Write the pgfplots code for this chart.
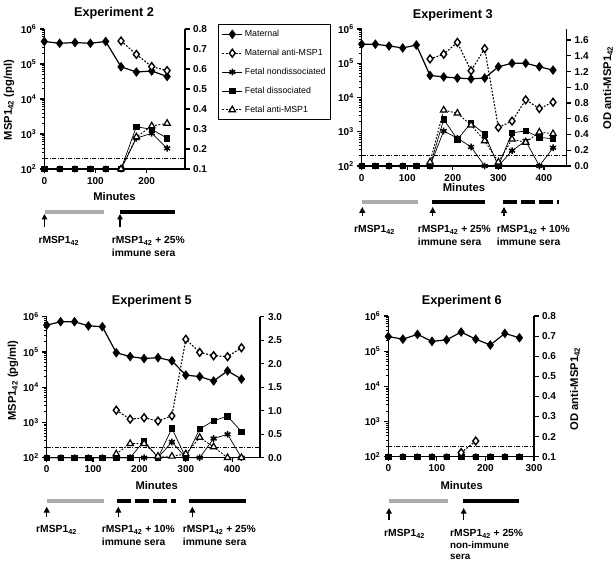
\documentclass[border=0pt]{standalone}
\usepackage{pgfplots}
\pgfplotsset{compat=1.18}
\usepackage{fontspec}
\setmainfont{Liberation Sans}
\usetikzlibrary{arrows.meta}

\newcommand\tickf{\bfseries\fontsize{10}{11}\selectfont}
\newcommand\titf{\bfseries\fontsize{12.7}{14}\selectfont}
\newcommand\labf{\bfseries\fontsize{11.2}{13}\selectfont}
\newcommand\annf{\bfseries\fontsize{10.3}{11.7}\selectfont}
\newcommand\annsf{\bfseries\fontsize{9.8}{11}\selectfont}

\pgfplotsset{
  mybase/.style={scale only axis, clip=false, xmin=0,
    tick align=outside,
    axis line style={line width=1.4pt,-},
    tick style={black, line width=1.2pt},
    minor tick style={black, line width=0.8pt},
    major tick length=4.5pt, minor tick length=2.5pt,
    ticklabel style={font=\tickf}},
  myleft/.style={mybase,
    axis x line*=bottom, axis y line*=left,
    ytick={1e2,1e3,1e4,1e5,1e6},
    yticklabels={10\textsuperscript{2},10\textsuperscript{3},10\textsuperscript{4},10\textsuperscript{5},10\textsuperscript{6}},
    minor ytick={200,300,400,500,600,700,800,900,2000,3000,4000,5000,6000,7000,8000,9000,20000,30000,40000,50000,60000,70000,80000,90000,200000,300000,400000,500000,600000,700000,800000,900000}},
  myright/.style={mybase, axis x line=none, axis y line*=right},
  smat/.style={black, line width=1.2pt, mark=diamond*, mark size=3.9pt, mark options={solid, fill=black}},
  smatab/.style={black, line width=1.1pt, dash pattern=on 1.8pt off 1.6pt, mark=diamond*, mark size=3.9pt, mark options={solid, fill=white, line width=1.4pt}},
  sfnd/.style={black, line width=0.7pt, mark=asterisk, mark size=3.4pt, mark options={solid, line width=1.5pt}},
  sfd/.style={black, line width=0.7pt, mark=square*, mark size=2.7pt, mark options={solid}},
  sfab/.style={black, line width=0.9pt, dash pattern=on 1.8pt off 1.6pt, mark=triangle*, mark size=3.7pt, mark options={solid, fill=white, line width=1.2pt}},
  sdl/.style={black, line width=0.7pt, dash pattern=on 4pt off 1.5pt on 1pt off 1.5pt, mark=none},
}

\begin{document}
\begin{tikzpicture}
\useasboundingbox (0,0) rectangle (616pt,563pt);

% ================= Experiment 2 =================
\begin{axis}[myleft, ymode=log, ymin=100, ymax=1e6, at={(44.3pt,394pt)}, anchor=south west,
  width=140.7pt, height=140pt, xmax=275,
  xtick={0,100,200}, xticklabels={0,100,200},
  legend style={at={(1.2367,1.0357)}, anchor=north west, draw=black, line width=0.8pt,
    font=\fontsize{8.8}{10}\selectfont, row sep=7pt, inner xsep=3pt, inner ysep=4pt,
    cells={anchor=west}},
  legend image code/.code={\draw[mark repeat=2,mark phase=2] plot coordinates {(0pt,0pt) (10pt,0pt) (20pt,0pt)};}]
\addlegendimage{smat}
\addlegendimage{smatab}
\addlegendimage{sfnd}
\addlegendimage{sfd}
\addlegendimage{sfab}
\legend{Maternal, Maternal anti-MSP1, Fetal nondissociated, Fetal dissociated, Fetal anti-MSP1}
\addplot[sdl, forget plot] coordinates {(0,200) (275,200)};
\addplot[smat, forget plot] coordinates {(0,4.4e5)(30,3.9e5)(60,4.1e5)(90,3.9e5)(120,4.4e5)(150,8.3e4)(180,5.9e4)(210,6.3e4)(240,4.4e4)};
\addplot[sfd, forget plot] coordinates {(0,100)(30,100)(60,100)(90,100)(120,100)(150,100)(180,1620)(210,1350)(240,760)};
\addplot[sfnd, forget plot] coordinates {(0,100)(30,100)(60,100)(90,100)(120,100)(150,100)(180,760)(210,1050)(240,390)};
\end{axis}
\begin{axis}[myright, at={(44.3pt,394pt)}, anchor=south west,
  width=140.7pt, height=140pt, xmax=275, ymin=0.1, ymax=0.8,
  ytick={0.1,0.2,0.3,0.4,0.5,0.6,0.7,0.8}, yticklabels={0.1,0.2,0.3,0.4,0.5,0.6,0.7,0.8}]
\addplot[smatab] coordinates {(150,0.74)(180,0.673)(210,0.612)(240,0.592)};
\addplot[sfab] coordinates {(150,0.1)(180,0.26)(210,0.315)(240,0.328)};
\end{axis}
\node[font=\titf] at (114pt,550pt) {Experiment 2};
\node[font=\labf] at (114.5pt,367pt) {Minutes};
\node[font=\labf, rotate=90] at (9pt,463pt) {MSP1\textsubscript{42} (pg/ml)};
\draw[line width=4pt, gray!65] (45pt,351pt) -- (104pt,351pt);
\draw[line width=4pt, black] (120pt,351pt) -- (175pt,351pt);
\draw[line width=1.3pt, -{Triangle[width=5.5pt,length=5.5pt]}] (44.5pt,336pt) -- (44.5pt,349pt);
\draw[line width=1.3pt, -{Triangle[width=5.5pt,length=5.5pt]}] (120pt,336pt) -- (120pt,349pt);
\node[font=\annf, anchor=west, inner sep=0pt] at (38.3pt,322pt) {rMSP1\textsubscript{42}};
\node[font=\annf, anchor=west, inner sep=0pt] at (111.7pt,322pt) {rMSP1\textsubscript{42} + 25\%};
\node[font=\annf, anchor=west, inner sep=0pt] at (111.7pt,310pt) {immune sera};

% ================= Experiment 3 =================
\begin{axis}[myleft, ymode=log, ymin=100, ymax=1e6, at={(361.7pt,397pt)}, anchor=south west,
  width=205pt, height=137pt, xmax=450,
  xtick={0,100,200,300,400}, xticklabels={0,100,200,300,400}]
\addplot[sdl] coordinates {(0,200) (450,200)};
\addplot[smat] coordinates {(0,3.6e5)(30,3.6e5)(60,3.2e5)(90,2.8e5)(120,3.4e5)(150,4.4e4)(180,4.0e4)(210,3.7e4)(240,3.5e4)(270,3.7e4)(300,7.9e4)(330,1.0e5)(360,1.0e5)(390,7.9e4)(420,6.3e4)};
\addplot[sfd] coordinates {(0,100)(30,100)(60,100)(90,100)(120,100)(150,100)(180,2300)(210,600)(240,1800)(270,850)(300,100)(330,930)(360,1050)(390,690)(420,620)};
\addplot[sfnd] coordinates {(0,100)(30,100)(60,100)(90,100)(120,100)(150,100)(180,1050)(210,650)(240,360)(270,100)(300,100)(330,280)(360,540)(390,100)(420,340)};
\end{axis}
\begin{axis}[myright, at={(361.7pt,397pt)}, anchor=south west,
  width=205pt, height=137pt, xmax=450, ymin=0, ymax=1.74,
  ytick={0,0.2,0.4,0.6,0.8,1.0,1.2,1.4,1.6}, yticklabels={0.0,0.2,0.4,0.6,0.8,1.0,1.2,1.4,1.6}]
\addplot[smatab] coordinates {(150,1.36)(180,1.42)(210,1.57)(240,1.21)(270,1.49)(300,0.49)(330,0.57)(360,0.84)(390,0.73)(420,0.81)};
\addplot[sfab] coordinates {(150,0.05)(180,0.71)(210,0.67)(240,0.52)(270,0.32)(300,0.05)(330,0.34)(360,0.30)(390,0.43)(420,0.41)};
\end{axis}
\node[font=\titf] at (452.7pt,548pt) {Experiment 3};
\node[font=\labf] at (464pt,376pt) {Minutes};
\node[font=\labf, rotate=90] at (608pt,475pt) {OD anti-MSP1\textsubscript{42}};
\draw[line width=4pt, gray!65] (361.7pt,361.3pt) -- (418.3pt,361.3pt);
\draw[line width=4pt, black] (431.7pt,361.3pt) -- (485pt,361.3pt);
\draw[line width=4pt, black, dash pattern=on 14pt off 4pt] (502.7pt,361.3pt) -- (559pt,361.3pt);
\draw[line width=1.3pt, -{Triangle[width=6pt,length=6pt]}] (362.3pt,347pt) -- (362.3pt,356pt);
\draw[line width=1.3pt, -{Triangle[width=6pt,length=6pt]}] (432.7pt,347pt) -- (432.7pt,356pt);
\draw[line width=1.3pt, -{Triangle[width=6pt,length=6pt]}] (504pt,347pt) -- (504pt,356pt);
\node[font=\annf, anchor=west, inner sep=0pt] at (354pt,333pt) {rMSP1\textsubscript{42}};
\node[font=\annf, anchor=west, inner sep=0pt] at (417.7pt,333pt) {rMSP1\textsubscript{42} + 25\%};
\node[font=\annf, anchor=west, inner sep=0pt] at (417.7pt,321.3pt) {immune sera};
\node[font=\annf, anchor=west, inner sep=0pt] at (496.7pt,333pt) {rMSP1\textsubscript{42} + 10\%};
\node[font=\annf, anchor=west, inner sep=0pt] at (496.7pt,321.3pt) {immune sera};

% ================= Experiment 5 =================
\begin{axis}[myleft, ymode=log, ymin=100, ymax=1e6, at={(46.7pt,105.3pt)}, anchor=south west,
  width=213.3pt, height=141pt, xmax=460,
  xtick={0,100,200,300,400}, xticklabels={0,100,200,300,400}]
\addplot[sdl] coordinates {(0,200) (460,200)};
\addplot[smat] coordinates {(0,5.75e5)(30,7.2e5)(60,7.2e5)(90,5.5e5)(120,5.2e5)(150,9.5e4)(180,7.4e4)(210,6.5e4)(240,6.9e4)(270,5.6e4)(300,2.2e4)(330,2.0e4)(360,1.5e4)(390,2.9e4)(420,1.7e4)};
\addplot[sfd] coordinates {(0,100)(30,100)(60,100)(90,100)(120,100)(150,100)(180,100)(210,300)(240,100)(270,680)(300,100)(330,650)(360,1120)(390,1500)(420,550)};
\addplot[sfnd] coordinates {(0,100)(30,100)(60,100)(90,100)(120,100)(150,100)(180,100)(210,100)(240,100)(270,280)(300,100)(330,100)(360,350)(390,460)(420,100)};
\end{axis}
\begin{axis}[myright, at={(46.7pt,105.3pt)}, anchor=south west,
  width=213.3pt, height=141pt, xmax=460, ymin=0, ymax=3,
  ytick={0,0.5,1,1.5,2,2.5,3}, yticklabels={0.0,0.5,1.0,1.5,2.0,2.5,3.0}]
\addplot[smatab] coordinates {(150,1.01)(180,0.82)(210,0.85)(240,0.78)(270,0.89)(300,2.52)(330,2.24)(360,2.17)(390,2.15)(420,2.34)};
\addplot[sfab] coordinates {(150,0.08)(180,0.3)(210,0.3)(240,0.03)(270,0.03)(300,0.08)(330,0.43)(360,0.23)(390,0.0)(420,0.0)};
\end{axis}
\node[font=\titf] at (151.7pt,261.3pt) {Experiment 5};
\node[font=\labf] at (156.7pt,78pt) {Minutes};
\node[font=\labf, rotate=90] at (13pt,182.3pt) {MSP1\textsubscript{42} (pg/ml)};
\draw[line width=4pt, gray!65] (47.3pt,62.3pt) -- (104pt,62.3pt);
\draw[line width=4pt, black, dash pattern=on 14pt off 4pt] (117.3pt,62.3pt) -- (175.7pt,62.3pt);
\draw[line width=4pt, black] (189.3pt,62.3pt) -- (246pt,62.3pt);
\draw[line width=1.3pt, -{Triangle[width=6pt,length=6pt]}] (46.7pt,46pt) -- (46.7pt,56.3pt);
\draw[line width=1.3pt, -{Triangle[width=6pt,length=6pt]}] (118.3pt,46pt) -- (118.3pt,56.3pt);
\draw[line width=1.3pt, -{Triangle[width=6pt,length=6pt]}] (192.3pt,46pt) -- (192.3pt,56.3pt);
\node[font=\annf, anchor=west, inner sep=0pt] at (36pt,33pt) {rMSP1\textsubscript{42}};
\node[font=\annf, anchor=west, inner sep=0pt] at (101.7pt,33pt) {rMSP1\textsubscript{42} + 10\%};
\node[font=\annf, anchor=west, inner sep=0pt] at (101.7pt,21.3pt) {immune sera};
\node[font=\annf, anchor=west, inner sep=0pt] at (182.7pt,33pt) {rMSP1\textsubscript{42} + 25\%};
\node[font=\annf, anchor=west, inner sep=0pt] at (182.7pt,21.3pt) {immune sera};

% ================= Experiment 6 =================
\begin{axis}[myleft, ymode=log, ymin=100, ymax=1e6, at={(388.3pt,106.3pt)}, anchor=south west,
  width=145.7pt, height=140.7pt, xmax=300,
  xtick={0,100,200,300}, xticklabels={0,100,200,300}]
\addplot[sdl] coordinates {(0,200) (300,200)};
\addplot[smat] coordinates {(0,2.6e5)(30,2.2e5)(60,3.0e5)(90,1.9e5)(120,2.1e5)(150,3.5e5)(180,2.2e5)(210,1.5e5)(240,3.2e5)(270,2.4e5)};
\addplot[sfd] coordinates {(0,100)(30,100)(60,100)(90,100)(120,100)(150,100)(180,100)(210,100)(240,100)(270,100)};
\addplot[sfnd] coordinates {(0,100)(30,100)(60,100)(90,100)(120,100)(150,100)(180,100)(210,100)(240,100)(270,100)};
\end{axis}
\begin{axis}[myright, at={(388.3pt,106.3pt)}, anchor=south west,
  width=145.7pt, height=140.7pt, xmax=300, ymin=0.1, ymax=0.8,
  ytick={0.1,0.2,0.3,0.4,0.5,0.6,0.7,0.8}, yticklabels={0.1,0.2,0.3,0.4,0.5,0.6,0.7,0.8}]
\addplot[smatab] coordinates {(150,0.12)(180,0.178)};
\end{axis}
\node[font=\titf] at (461.7pt,261.3pt) {Experiment 6};
\node[font=\labf] at (461.7pt,78pt) {Minutes};
\node[font=\labf, rotate=90] at (575pt,174pt) {OD anti-MSP1\textsubscript{42}};
\draw[line width=4pt, gray!65] (389pt,62pt) -- (448.3pt,62pt);
\draw[line width=4pt, black] (462.7pt,62pt) -- (519.3pt,62pt);
\draw[line width=1.3pt, -{Triangle[width=5.5pt,length=5.5pt]}] (389pt,43pt) -- (389pt,55pt);
\draw[line width=1.3pt, -{Triangle[width=5.5pt,length=5.5pt]}] (463.7pt,43pt) -- (463.7pt,55pt);
\node[font=\annf, anchor=west, inner sep=0pt] at (384pt,29pt) {rMSP1\textsubscript{42}};
\node[font=\annf, anchor=west, inner sep=0pt] at (450pt,29pt) {rMSP1\textsubscript{42} + 25\%};
\node[font=\annsf, anchor=west, inner sep=0pt] at (450pt,17.7pt) {non-immune};
\node[font=\annsf, anchor=west, inner sep=0pt] at (450pt,6.3pt) {sera};
\end{tikzpicture}
\end{document}
